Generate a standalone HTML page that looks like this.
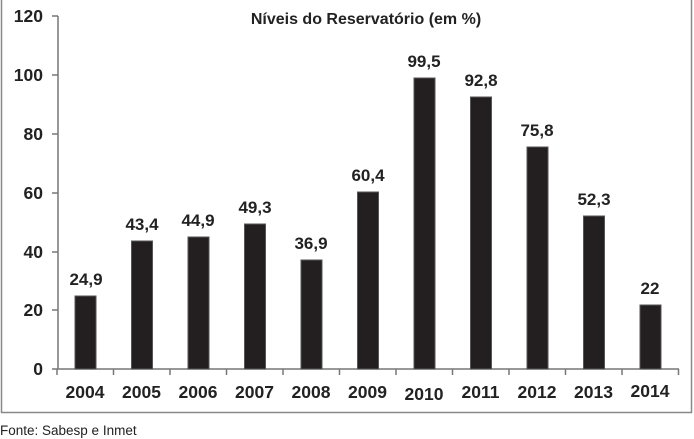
<!DOCTYPE html>
<html><head><meta charset="utf-8"><style>body{margin:0;background:#fff}svg{display:block}text{font-family:"Liberation Sans",sans-serif;fill:#222}</style></head><body>
<svg width="694" height="439" viewBox="0 0 694 439">
<rect x="1.5" y="-2" width="690" height="414.5" fill="none" stroke="#888" stroke-width="1.5"/>
<text x="366" y="24" font-size="16" font-weight="bold" text-anchor="middle">Níveis do Reservatório (em %)</text>
<g stroke="#777" stroke-width="1.5">
<line x1="58" y1="16" x2="58" y2="369"/>
<line x1="52" y1="369" x2="679" y2="369"/>
<line x1="52" y1="16" x2="58" y2="16"/><line x1="52" y1="75" x2="58" y2="75"/><line x1="52" y1="134" x2="58" y2="134"/><line x1="52" y1="193" x2="58" y2="193"/><line x1="52" y1="252" x2="58" y2="252"/><line x1="52" y1="310" x2="58" y2="310"/>
</g>
<g stroke="#777" stroke-width="1.5">
<line x1="57" y1="369" x2="57" y2="375"/><line x1="113.5" y1="369" x2="113.5" y2="375"/><line x1="170" y1="369" x2="170" y2="375"/><line x1="226.5" y1="369" x2="226.5" y2="375"/><line x1="283" y1="369" x2="283" y2="375"/><line x1="339.5" y1="369" x2="339.5" y2="375"/><line x1="396" y1="369" x2="396" y2="375"/><line x1="452.5" y1="369" x2="452.5" y2="375"/><line x1="509" y1="369" x2="509" y2="375"/><line x1="565.5" y1="369" x2="565.5" y2="375"/><line x1="622" y1="369" x2="622" y2="375"/><line x1="678.5" y1="369" x2="678.5" y2="375"/>
</g>
<g font-size="17.5" font-weight="bold" text-anchor="end">
<text x="43" y="22">120</text><text x="43" y="81">100</text><text x="43" y="140">80</text><text x="43" y="199">60</text><text x="43" y="258">40</text><text x="43" y="316">20</text><text x="43" y="375">0</text>
</g>
<g fill="#231f20" stroke="#555" stroke-width="1">
<rect x="75" y="296" width="21" height="73"/>
<rect x="131.5" y="241" width="21" height="128"/>
<rect x="188" y="237" width="21" height="132"/>
<rect x="244.5" y="224" width="21" height="145"/>
<rect x="301" y="260" width="21" height="109"/>
<rect x="357.5" y="192" width="21" height="177"/>
<rect x="414" y="78" width="21" height="291"/>
<rect x="470.5" y="97" width="21" height="272"/>
<rect x="527" y="147" width="21" height="222"/>
<rect x="583.5" y="216" width="21" height="153"/>
<rect x="640" y="305" width="21" height="64"/>
</g>
<g font-size="17" font-weight="bold" text-anchor="middle">
<text x="86" y="285">24,9</text><text x="142" y="230">43,4</text><text x="198" y="226">44,9</text><text x="255" y="213">49,3</text><text x="311" y="249">36,9</text><text x="368" y="181">60,4</text><text x="424" y="67">99,5</text><text x="481" y="86">92,8</text><text x="537" y="136">75,8</text><text x="594" y="205">52,3</text><text x="650" y="294">22</text>
</g>
<g font-size="17.5" font-weight="bold" text-anchor="middle">
<text x="85" y="398">2004</text><text x="141.5" y="398">2005</text><text x="198" y="398">2006</text><text x="254.5" y="398">2007</text><text x="311" y="398">2008</text><text x="367.5" y="398">2009</text><text x="424" y="400">2010</text><text x="480.5" y="398">2011</text><text x="537" y="398">2012</text><text x="593.5" y="398">2013</text><text x="650" y="397">2014</text>
</g>
<text x="0" y="435" font-size="13.5">Fonte: Sabesp e Inmet</text>
</svg>
</body></html>
